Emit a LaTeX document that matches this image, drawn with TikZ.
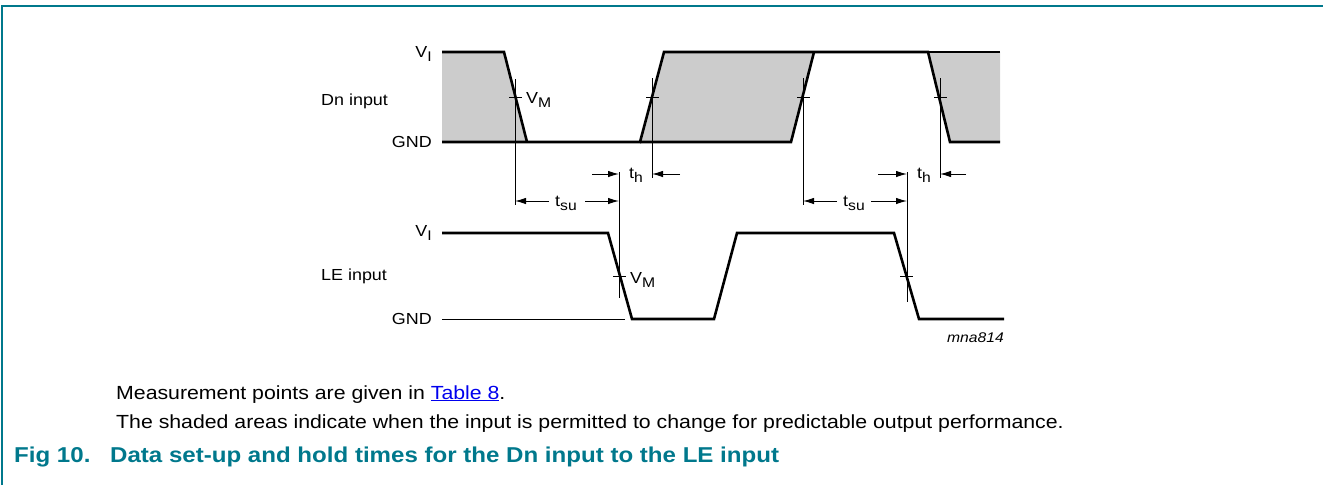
\documentclass[tikz,border=0pt]{standalone}
\usepackage{fontspec}
\setmainfont{Liberation Sans}[FakeStretch=1.12]
\usetikzlibrary{arrows.meta}
\definecolor{nxpteal}{HTML}{00788C}
\definecolor{greyfill}{HTML}{CCCCCC}
\definecolor{linkblue}{HTML}{0000EE}
\newcommand\lsub[1]{\raisebox{-4pt}{\fontsize{14}{14}\selectfont #1}}
\begin{document}
\begin{tikzpicture}[x=1pt,y=-1pt,
  sig/.style={line width=2.6pt},
  thinline/.style={line width=1pt},
  dimarrow/.style={line width=1pt,-{Latex[length=11pt,width=6.5pt]}},
  lbl/.style={inner sep=0pt,font=\fontsize{16}{19}\selectfont},
  body/.style={inner sep=0pt,font=\fontsize{19}{22}\selectfont},
  figcap/.style={inner sep=0pt,font=\fontsize{21.5}{24}\selectfont\bfseries,text=nxpteal}]
\useasboundingbox (0,0) rectangle (1323,485);
% frame
\draw[nxpteal,line width=2pt] (2,485) -- (2,6) -- (1323,6);
% shaded areas
\fill[greyfill] (442,52) -- (504,52) -- (527,142) -- (442,142) -- cycle;
\fill[greyfill] (640,142) -- (664,52) -- (814,52) -- (791,142) -- cycle;
\fill[greyfill] (928,52) -- (1000,52) -- (1000,142) -- (950,142) -- cycle;
% Dn waveform
\draw[sig] (442,52) -- (504,52) -- (527,142);
\draw[sig] (442,142) -- (640,142) -- (664,52) -- (928,52) -- (950,142) -- (1000,142);
\draw[sig] (640,142) -- (791,142) -- (814,52);
\draw[sig] (928,52) -- (1000,52);
% LE waveform
\draw[thinline] (442,319) -- (625,319);
\draw[sig] (442,233) -- (608,233) -- (632,319) -- (714,319) -- (737,233) -- (894,233) -- (919,319) -- (1004,319);
% measurement lines
\coordinate (d1t) at (515,79);  \coordinate (d1b) at (515,205);
\coordinate (d2t) at (652,78);  \coordinate (d2b) at (652,178);
\coordinate (d3t) at (803,78);  \coordinate (d3b) at (803,205);
\coordinate (d4t) at (940,78);  \coordinate (d4b) at (940,178);
\coordinate (l1t) at (619,172); \coordinate (l1b) at (619,298);
\coordinate (l2t) at (907,172); \coordinate (l2b) at (907,302);
\foreach \a in {d1,d2,d3,d4,l1,l2} \draw[thinline] (\a t) -- (\a b);
% VM ticks
\draw[thinline] (509,97) -- (522,97);
\draw[thinline] (646,97) -- (659,97);
\draw[thinline] (797,97) -- (810,97);
\draw[thinline] (934,97) -- (947,97);
\draw[thinline] (613,276) -- (626,276);
\draw[thinline] (900,276) -- (913,276);
% set-up / hold dimension arrows
\coordinate (su1a) at (515,201); \coordinate (su1b) at (619,201);
\coordinate (su2a) at (803,201); \coordinate (su2b) at (907,201);
\draw[dimarrow] (549,201) -- (su1a);
\draw[dimarrow] (585,201) -- (su1b);
\draw[dimarrow] (837,201) -- (su2a);
\draw[dimarrow] (871,201) -- (su2b);
\coordinate (h1a) at (619,174); \coordinate (h1b) at (652,174);
\coordinate (h2a) at (907,174); \coordinate (h2b) at (940,174);
\draw[dimarrow] (592,174) -- (h1a);
\draw[dimarrow] (680,174) -- (h1b);
\draw[dimarrow] (878,174) -- (h2a);
\draw[dimarrow] (966,174) -- (h2b);
\node[lbl,anchor=base] (tsu1) at (566,206) {t\lsub{su}};
\node[lbl,anchor=base] (tsu2) at (854,206) {t\lsub{su}};
\node[lbl,anchor=base west] (th1) at (629,178) {t\lsub{h}};
\node[lbl,anchor=base west] (th2) at (917,178) {t\lsub{h}};
% labels
\node[lbl,anchor=base east] (dvi) at (432,57) {V\lsub{I}};
\node[lbl,anchor=east] (dgnd) at (432,142) {GND};
\node[lbl,anchor=base west] (dn) at (321,105) {Dn input};
\node[lbl,anchor=base west] (dvm) at (526,103) {V\lsub{M}};
\node[lbl,anchor=base east] (lvi) at (432,236) {V\lsub{I}};
\node[lbl,anchor=east] (lgnd) at (432,319) {GND};
\node[lbl,anchor=base west] (le) at (321,280) {LE input};
\node[lbl,anchor=base west] (lvm) at (630,283) {V\lsub{M}};
\node[inner sep=0pt,anchor=base east,font=\fontsize{14}{16}\selectfont\itshape] (code) at (1004,342) {mna814};
% text
\node[body,anchor=base west] (t1) at (116,399) {Measurement points are given in \textcolor{linkblue}{\underline{Table 8}}.};
\node[body,anchor=base west] (t2) at (116,428) {The shaded areas indicate when the input is permitted to change for predictable output performance.};
\node[figcap,anchor=base west] (fignum) at (14,462) {Fig 10.};
\node[figcap,anchor=base west] (figtitle) at (110,462) {Data set-up and hold times for the Dn input to the LE input};
\end{tikzpicture}
\end{document}
